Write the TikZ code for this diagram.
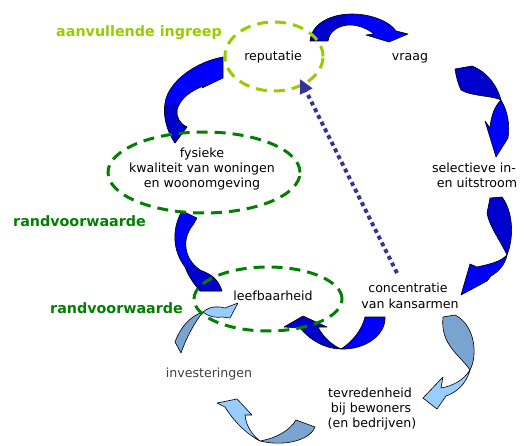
\documentclass[tikz,border=0pt]{standalone}
\usepackage{fontspec}
\setmainfont{DejaVu Sans}
\usetikzlibrary{shapes.geometric,arrows.meta}
\definecolor{bluefront}{RGB}{0,0,255}
\definecolor{blueback}{RGB}{0,0,204}
\definecolor{lightfront}{RGB}{153,204,255}
\definecolor{lightback}{RGB}{122,163,207}
\definecolor{ygreen}{RGB}{153,204,0}
\definecolor{dgreen}{RGB}{0,128,0}
\definecolor{dotblue}{RGB}{51,51,153}
\definecolor{greytext}{RGB}{64,64,64}
\def\arrA{(310,41) .. controls (312,22) and (333,14) .. (352,14) .. controls (372,14) and (390,22) .. (396,31) -- (408,34) -- (389,42) -- (366,35) -- (374,34) .. controls (368,29) and (359,25) .. (350,25) .. controls (338,25) and (329,32) .. (328,41) -- cycle}
\def\arrD{(175,143) .. controls (166,130) and (163,115) .. (165,103) .. controls (168,82) and (195,62) .. (223,57) -- (223,78) -- (202,88) -- (206,85) .. controls (192,90) and (180,98) .. (177,110) .. controls (176,117) and (180,124) .. (187,127) -- cycle}
\def\arrE{(200,291) .. controls (193,283) and (188,275) .. (185,267) .. controls (172,250) and (172,228) .. (182,211) -- (197,218) -- (193,225) .. controls (182,238) and (183,258) .. (200,270) .. controls (210,274) and (218,278) .. (222,291) -- cycle}
\begin{document}
\begin{tikzpicture}[x=1pt,y=-1pt,
  piece/.style={draw=black,line width=0.6pt,line join=round},
  bf/.style={piece,fill=bluefront},
  bb/.style={piece,fill=blueback},
  lf/.style={piece,fill=lightfront},
  lb/.style={piece,fill=lightback},
  ring/.style={draw,ellipse,dash pattern=on 11pt off 7pt,line width=3pt,inner sep=0pt},
  lbl/.style={anchor=base,inner sep=0pt,font=\fontsize{12.6}{14}\selectfont},
  tagtext/.style={anchor=base west,inner sep=0pt,font=\fontsize{14.3}{16}\selectfont\bfseries}]
\useasboundingbox[fill=white] (0,0) rectangle (527,446);

% arrows without twist (A, D, E)
\fill[bluefront] \arrA;
\begin{scope}\clip \arrA; \fill[blueback] (300,0) rectangle (346,50); \end{scope}
\draw[piece] \arrA;
\fill[bluefront] \arrD;
\begin{scope}\clip \arrD; \fill[blueback] (150,104) rectangle (200,150); \end{scope}
\draw[piece] \arrD;
\fill[bluefront] \arrE;
\begin{scope}\clip \arrE; \fill[blueback] (165,264) rectangle (230,300); \end{scope}
\draw[piece] \arrE;

% B
\path[bb] (455,69) -- (472,66) .. controls (487,72) and (497,85) .. (501,100) .. controls (494,96) and (470,96) .. (461,90) .. controls (458,84) and (456,76) .. (455,69) -- cycle;
\path[bf] (501,100) .. controls (508,112) and (510,125) .. (508,138) -- (496,157) -- (485,121) -- (490,128) .. controls (491,115) and (495,106) .. (501,100) -- cycle;
% C
\path[bb] (490,198) -- (502,197) .. controls (512,210) and (515,235) .. (507,255) .. controls (500,240) and (489,226) .. (487,213) -- cycle;
\path[bf] (507,255) .. controls (505,265) and (498,272) .. (491,276) -- (487,281) -- (461,295) -- (470,264) -- (477,267) .. controls (490,264) and (500,262) .. (507,255) -- cycle;
% F
\path[bf] (365,317) -- (385,317) .. controls (386,335) and (365,350) .. (341,349) .. controls (352,342) and (362,330) .. (365,317) -- cycle;
\path[bb] (341,349) .. controls (325,349) and (310,340) .. (300,328) -- (284,327) -- (303,316) -- (327,327) -- (318,327) .. controls (323,337) and (332,345) .. (341,349) -- cycle;
% G
\path[lb] (175,342) .. controls (180,328) and (190,316) .. (203,312) .. controls (195,322) and (187,336) .. (181,353) -- cycle;
\path[lf] (203,312) .. controls (210,306) and (218,306) .. (225,308) -- (238,303) -- (230,318) -- (223,317) .. controls (216,318) and (209,317) .. (203,312) -- cycle;
% H
\path[lb] (443,317) -- (455,315) .. controls (475,325) and (478,355) .. (470,370) .. controls (460,355) and (440,345) .. (443,317) -- cycle;
\path[lf] (470,370) .. controls (466,385) and (455,393) .. (446,396) -- (437,409) -- (423,398) -- (443,377) -- (441,388) .. controls (452,386) and (463,381) .. (470,370) -- cycle;
% I
\path[lf] (260,441) .. controls (245,433) and (233,420) .. (225,407) -- (217,403) -- (237,399) -- (252,415) -- (245,415) .. controls (246,425) and (251,434) .. (260,441) -- cycle;
\path[lb] (260,441) .. controls (277,438) and (290,430) .. (296,420) -- (315,427) .. controls (310,440) and (285,447) .. (260,441) -- cycle;

% ellipses
\node[ring, draw=ygreen, minimum width=98pt, minimum height=69pt] (repE) at (274,56.5) {};
\node[ring, draw=dgreen, minimum width=192pt, minimum height=81pt] (fysE) at (204,172.5) {};
\node[ring, draw=dgreen, minimum width=148pt, minimum height=64pt] (leefE) at (268,299) {};

% dotted arrow
\coordinate (dotS) at (397,273);
\coordinate (dotE) at (300,79);
\draw[dotblue, line width=4pt, dash pattern=on 4pt off 3.5pt, -{Triangle[length=14pt,width=13pt]}] (dotS) -- (dotE);

% texts
\node[tagtext, text=ygreen] (tAanv) at (56,37) {aanvullende ingreep};
\node[lbl] (tRep) at (273,61) {reputatie};
\node[lbl] (tVraag) at (410,61) {vraag};
\node[lbl] (tFys1) at (202,158) {fysieke};
\node[lbl] (tFys2) at (202,173) {kwaliteit van woningen};
\node[lbl] (tFys3) at (202,188) {en woonomgeving};
\node[tagtext, text=dgreen] (tRand1) at (13,227) {randvoorwaarde};
\node[lbl] (tSel1) at (474,173) {selectieve in-};
\node[lbl] (tSel2) at (477,188) {en uitstroom};
\node[lbl] (tLeef) at (273,300) {leefbaarheid};
\node[tagtext, text=dgreen] (tRand2) at (50,313) {randvoorwaarde};
\node[lbl] (tConc1) at (408,292) {concentratie};
\node[lbl] (tConc2) at (410,308) {van kansarmen};
\node[lbl, text=greytext] (tInv) at (209,377) {investeringen};
\node[lbl] (tTev1) at (370,397) {tevredenheid};
\node[lbl] (tTev2) at (371,412) {bij bewoners};
\node[lbl] (tTev3) at (372,427) {(en bedrijven)};
\end{tikzpicture}
\end{document}
